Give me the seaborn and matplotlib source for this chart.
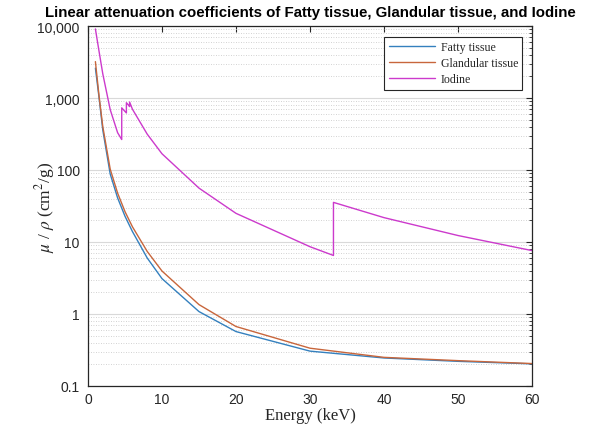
import numpy as np
import pandas as pd
import matplotlib
matplotlib.use("Agg")
import matplotlib.pyplot as plt
from matplotlib.ticker import FuncFormatter, LogLocator, NullFormatter
import seaborn as sns

# ---- data ----
energy_tissue = [1, 1.5, 2, 3, 4, 5, 6, 8, 10, 15, 20, 30, 40, 50, 60]
fatty = [2600, 1000, 358, 88, 41, 22.8, 14.0, 6.0, 3.1, 1.08, 0.57, 0.305, 0.245, 0.22, 0.203]
glandular = [3200, 1050, 400, 103, 47.8, 26.4, 16.3, 7.4, 3.95, 1.35, 0.67, 0.335, 0.25, 0.225, 0.205]

energy_iodine = [1, 1.5, 2, 3, 4, 4.557, 4.557, 5, 5.188, 5.188, 5.5, 5.62, 5.62,
                 6, 8, 10, 15, 20, 30, 33.17, 33.17, 40, 50, 60]
iodine = [9100, 4400, 2160, 690, 330, 265, 730, 650, 620, 860, 790, 760, 880,
          700, 315, 168, 56, 25, 8.6, 6.5, 35.5, 21.8, 12.3, 7.6]

series_names = ["Fatty tissue", "Glandular tissue", "Iodine"]
colors = ["#3480BE", "#C8663C", "#CC3ACC"]

x_ticks = [0, 10, 20, 30, 40, 50, 60]
y_ticks = [0.1, 1, 10, 100, 1000, 10000]

df = pd.concat([
    pd.DataFrame({"Energy": energy_tissue, "mu": fatty, "Material": series_names[0]}),
    pd.DataFrame({"Energy": energy_tissue, "mu": glandular, "Material": series_names[1]}),
    pd.DataFrame({"Energy": energy_iodine, "mu": iodine, "Material": series_names[2]}),
], ignore_index=True)

sns.set_style("white")
plt.rcParams["font.family"] = ["Liberation Sans", "DejaVu Sans"]
plt.rcParams["mathtext.fontset"] = "stix"

fig = plt.figure(figsize=(5.9, 4.27), dpi=100)
ax = fig.add_axes([88 / 590, 1 - 387 / 427, (532 - 88) / 590, (387 - 27) / 427])

sns.lineplot(data=df, x="Energy", y="mu", hue="Material", hue_order=series_names,
             palette=colors, estimator=None, sort=False, linewidth=1.0, ax=ax)

ax.set_yscale("log")
ax.set_xlim(0, 60)
ax.set_ylim(0.1, 10000)
ax.set_xticks(x_ticks)
ax.set_yticks(y_ticks)
ax.yaxis.set_minor_locator(LogLocator(base=10, subs=np.arange(2, 10), numticks=20))
ax.yaxis.set_minor_formatter(NullFormatter())
ax.yaxis.set_major_formatter(FuncFormatter(lambda v, p: f"{v:,.0f}" if v >= 1 else f"{v:g}"))

ax.grid(True, which="major", axis="y", color="#D9D9D9", linewidth=0.8, linestyle="-")
ax.grid(True, which="minor", axis="y", color="#C4C4C4", linewidth=0.6, linestyle=(0, (1, 2)))
ax.set_axisbelow(True)

for s in ax.spines.values():
    s.set_color("#262626")
    s.set_linewidth(0.9)
ax.tick_params(which="both", direction="in", top=True, right=True, colors="#262626",
               labelcolor="#262626", labelsize=10)
ax.tick_params(which="major", length=4, width=0.8)
ax.tick_params(axis="x", which="major", pad=4)
ax.tick_params(axis="y", which="major", pad=6)
ax.tick_params(which="minor", length=2, width=0.6)
ax.tick_params(axis="x", which="minor", top=False, bottom=False)

ax.set_xlabel("Energy (keV)", family="Liberation Serif", fontsize=12, color="#262626", labelpad=1)
ax.set_ylabel(r"$\mu$ / $\rho$ (cm$^2$/g)", family="Liberation Serif", fontsize=12.5, color="#262626")
ax.yaxis.set_label_coords(-0.07, 0.5)
ax.set_title("Linear attenuation coefficients of Fatty tissue, Glandular tissue, and Iodine",
             fontsize=10.8, fontweight="bold", pad=7, color="black")

handles, labels = ax.get_legend_handles_labels()
leg = ax.legend(handles, labels, loc="upper right", bbox_to_anchor=(0.978, 0.97),
                prop={"family": "Liberation Serif", "size": 8.6}, frameon=True, fancybox=False,
                edgecolor="#262626", framealpha=1, borderpad=0.35, handlelength=3.9,
                handletextpad=0.45, labelspacing=0.35, borderaxespad=0)
leg.get_frame().set_linewidth(0.8)

fig.savefig("out.png", dpi=100)
